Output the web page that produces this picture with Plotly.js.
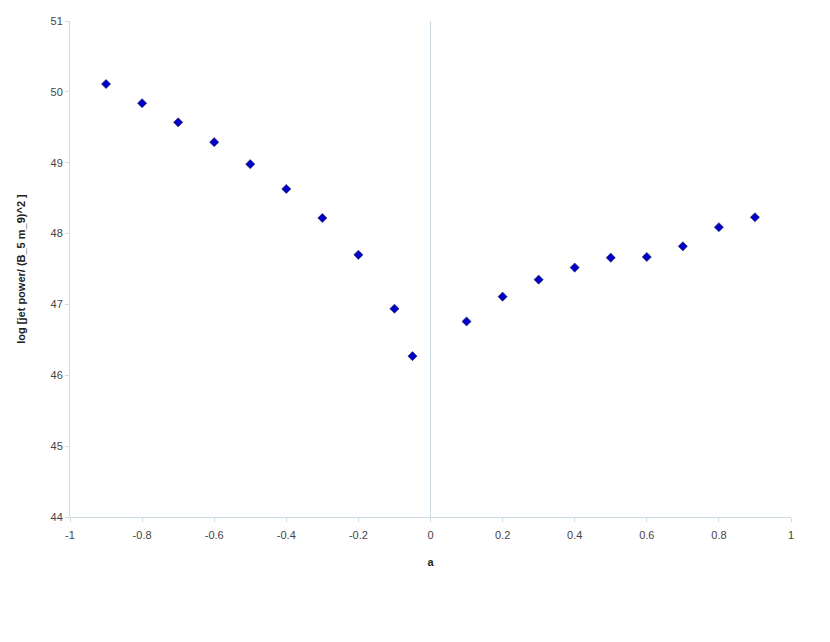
<!DOCTYPE html>
<html>
<head>
<meta charset="utf-8">
<script src="https://cdn.plot.ly/plotly-3.0.1.min.js"></script>
<style>html,body{margin:0;padding:0;background:#fff;}#chart{width:830px;height:642px;}</style>
</head>
<body>
<div id="chart"></div>
<script>
const spin = [-0.9, -0.8, -0.7, -0.6, -0.5, -0.4, -0.3, -0.2, -0.1, -0.05, 0.1, 0.2, 0.3, 0.4, 0.5, 0.6, 0.7, 0.8, 0.9];
const logPower = [50.11, 49.84, 49.57, 49.29, 48.98, 48.63, 48.22, 47.70, 46.94, 46.27, 46.76, 47.11, 47.35, 47.52, 47.66, 47.67, 47.82, 48.09, 48.23];
const xTicks = [-1, -0.8, -0.6, -0.4, -0.2, 0, 0.2, 0.4, 0.6, 0.8, 1];
const yTicks = [44, 45, 46, 47, 48, 49, 50, 51];

const axisCol = '#cfdbe3';
Plotly.newPlot('chart', [{
  x: spin, y: logPower, type: 'scatter', mode: 'markers',
  marker: {symbol: 'diamond', size: 7, color: '#0000c8', line: {color: '#22224a', width: 0.6}},
  showlegend: false
}], {
  width: 830, height: 642,
  paper_bgcolor: '#fff', plot_bgcolor: '#fff',
  margin: {l: 70, r: 39, t: 21, b: 125},
  font: {family: 'Liberation Sans, Arial, sans-serif', size: 11, color: '#444'},
  xaxis: {
    range: [-1, 1], tickvals: xTicks, ticktext: xTicks.map(String),
    showgrid: false, zeroline: true, zerolinecolor: axisCol, zerolinewidth: 1,
    showline: true, linecolor: axisCol, linewidth: 1,
    ticks: 'outside', ticklen: 4, tickcolor: axisCol, ticklabelstandoff: 4,
    tickfont: {size: 11, color: '#444'},
    title: {text: '<b>a</b>', font: {size: 11, color: '#222'}, standoff: 18}
  },
  yaxis: {
    range: [44, 51], tickvals: yTicks, ticktext: yTicks.map(String),
    showgrid: false, zeroline: false,
    showline: true, linecolor: axisCol, linewidth: 1,
    ticks: 'outside', ticklen: 4, tickcolor: axisCol,
    tickfont: {size: 11, color: '#444'},
    title: {text: '<b>log [jet power/ (B_5 m_9)^2 ]</b>', font: {size: 11, color: '#222'}, standoff: 22}
  }
}, {displayModeBar: false, staticPlot: true});
</script>
</body>
</html>
